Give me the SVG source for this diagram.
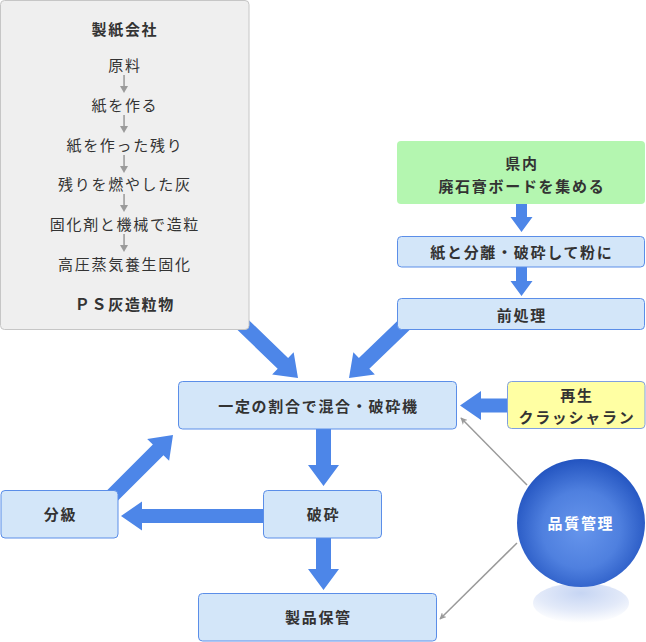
<svg xmlns="http://www.w3.org/2000/svg" width="646" height="642" viewBox="0 0 646 642">
<defs>
<style>
text{font-family:"Noto Sans CJK JP","Noto Sans",sans-serif;font-size:15px;fill:#333;text-anchor:middle;letter-spacing:1.7px}
.b{font-weight:bold}
.box{fill:#d3e6f9;stroke:#5b8ee8;stroke-width:1}
.big{fill:#4d86e8}
.thin{stroke:#9a9a9a;stroke-width:1.5;fill:none}
</style>
<radialGradient id="ball" cx="50%" cy="55%" r="55%">
<stop offset="0" stop-color="#6695ec"/>
<stop offset="0.55" stop-color="#4f80df"/>
<stop offset="1" stop-color="#2354c0"/>
</radialGradient>
<radialGradient id="refl" cx="50%" cy="25%" r="75%">
<stop offset="0" stop-color="#c6d5f3"/>
<stop offset="0.6" stop-color="#e3eaf9"/>
<stop offset="1" stop-color="#ffffff"/>
</radialGradient>
<marker id="ah" viewBox="0 0 10 10" refX="9" refY="5" markerWidth="7" markerHeight="7" orient="auto" markerUnits="userSpaceOnUse">
<path d="M0,0 L10,5 L0,10 L3,5 Z" fill="#9a9a9a"/>
</marker>
</defs>

<g id="connectors">
<path class="big" transform="translate(298,378) rotate(44)" d="M0,0 L-21,-15.5 L-21,-7.5 L-84,-7.5 L-84,7.5 L-21,7.5 L-21,15.5 Z"/>
<path class="big" transform="translate(349,378) rotate(136)" d="M0,0 L-21,-15.5 L-21,-7.5 L-82,-7.5 L-82,7.5 L-21,7.5 L-21,15.5 Z"/>
<path class="big" transform="translate(323.5,486) rotate(90)" d="M0,0 L-21,-15.5 L-21,-7.5 L-57,-7.5 L-57,7.5 L-21,7.5 L-21,15.5 Z"/>
<path class="big" transform="translate(323.5,590) rotate(90)" d="M0,0 L-21,-15.5 L-21,-7.5 L-52,-7.5 L-52,7.5 L-21,7.5 L-21,15.5 Z"/>
<path class="big" transform="translate(121,516) rotate(180)" d="M0,0 L-21,-14.5 L-21,-7 L-143,-7 L-143,7 L-21,7 L-21,14.5 Z"/>
<path class="big" transform="translate(173,435) rotate(-45)" d="M0,0 L-21,-15.5 L-21,-7.5 L-92,-7.5 L-92,7.5 L-21,7.5 L-21,15.5 Z"/>
<path class="big" transform="translate(460,405.5) rotate(180)" d="M0,0 L-21,-14.5 L-21,-7 L-49,-7 L-49,7 L-21,7 L-21,14.5 Z"/>
<path class="big" transform="translate(521.5,232) rotate(90)" d="M0,0 L-15,-11 L-15,-5.5 L-29,-5.5 L-29,5.5 L-15,5.5 L-15,11 Z"/>
<path class="big" transform="translate(521.5,296) rotate(90)" d="M0,0 L-15,-11 L-15,-5.5 L-30,-5.5 L-30,5.5 L-15,5.5 L-15,11 Z"/>
<line class="thin" x1="527" y1="485" x2="461" y2="418" marker-end="url(#ah)"/>
<line class="thin" x1="517" y1="543" x2="440" y2="619" marker-end="url(#ah)"/>
</g>

<g id="paper-company">
<rect x="0.5" y="0.5" width="248.5" height="329" rx="4" fill="#efefef" stroke="#c6c6c6"/>
<text class="b" x="124.9" y="34.5">製紙会社</text>
<text x="124.9" y="70.5">原料</text>
<text x="124.9" y="110.5">紙を作る</text>
<text x="124.9" y="150.5">紙を作った残り</text>
<text x="124.9" y="189.5">残りを燃やした灰</text>
<text x="124.9" y="229.5">固化剤と機械で造粒</text>
<text x="124.9" y="269.5">高圧蒸気養生固化</text>
<text class="b" x="124.9" y="309.5">ＰＳ灰造粒物</text>
<g fill="#9a9a9a" stroke="none">
<rect x="123.3" y="75" width="1.5" height="12"/><path d="M120,86 L128,86 L124,93 Z"/>
<rect x="123.3" y="115" width="1.5" height="12"/><path d="M120,126 L128,126 L124,133 Z"/>
<rect x="123.3" y="155" width="1.5" height="12"/><path d="M120,166 L128,166 L124,173 Z"/>
<rect x="123.3" y="194" width="1.5" height="12"/><path d="M120,205 L128,205 L124,212 Z"/>
<rect x="123.3" y="234" width="1.5" height="12"/><path d="M120,245 L128,245 L124,252 Z"/>
</g>
</g>

<g id="gypsum">
<rect x="397" y="141" width="248" height="63" rx="4" fill="#b4f6b0"/>
<text class="b" x="521.9" y="168.5">県内</text>
<text class="b" x="521.9" y="191.5">廃石膏ボードを集める</text>
</g>

<g id="separate">
<rect class="box" x="397.5" y="236.5" width="247" height="30.5" rx="4"/>
<text class="b" x="521.9" y="257.5">紙と分離・破砕して粉に</text>
</g>

<g id="pretreat">
<rect class="box" x="397.5" y="298.5" width="247" height="31" rx="4"/>
<text class="b" x="521.9" y="320.5">前処理</text>
</g>

<g id="mixer">
<rect class="box" x="178.5" y="381.5" width="278" height="47.5" rx="4"/>
<text class="b" x="318.4" y="411.5">一定の割合で混合・破砕機</text>
</g>

<g id="recycled">
<rect x="507.5" y="381.5" width="137.5" height="47" rx="4" fill="#ffffa3" stroke="#7f9fe0"/>
<text class="b" x="576.9" y="400.5">再生</text>
<text class="b" x="576.9" y="422.5">クラッシャラン</text>
</g>

<g id="crush">
<rect class="box" x="263.5" y="490.5" width="118" height="47.5" rx="4"/>
<text class="b" x="323.4" y="520">破砕</text>
</g>

<g id="classify">
<rect class="box" x="1" y="490.5" width="117" height="47.5" rx="4"/>
<text class="b" x="60.4" y="520">分級</text>
</g>

<g id="storage">
<rect class="box" x="198.5" y="593.5" width="238" height="47.5" rx="4"/>
<text class="b" x="318.4" y="622.5">製品保管</text>
</g>

<g id="quality">
<ellipse cx="581" cy="603" rx="48" ry="20" fill="url(#refl)"/>
<circle cx="581" cy="523" r="64" fill="url(#ball)"/>
<text class="b" x="580.9" y="528.5" style="fill:#fff">品質管理</text>
</g>
</svg>
